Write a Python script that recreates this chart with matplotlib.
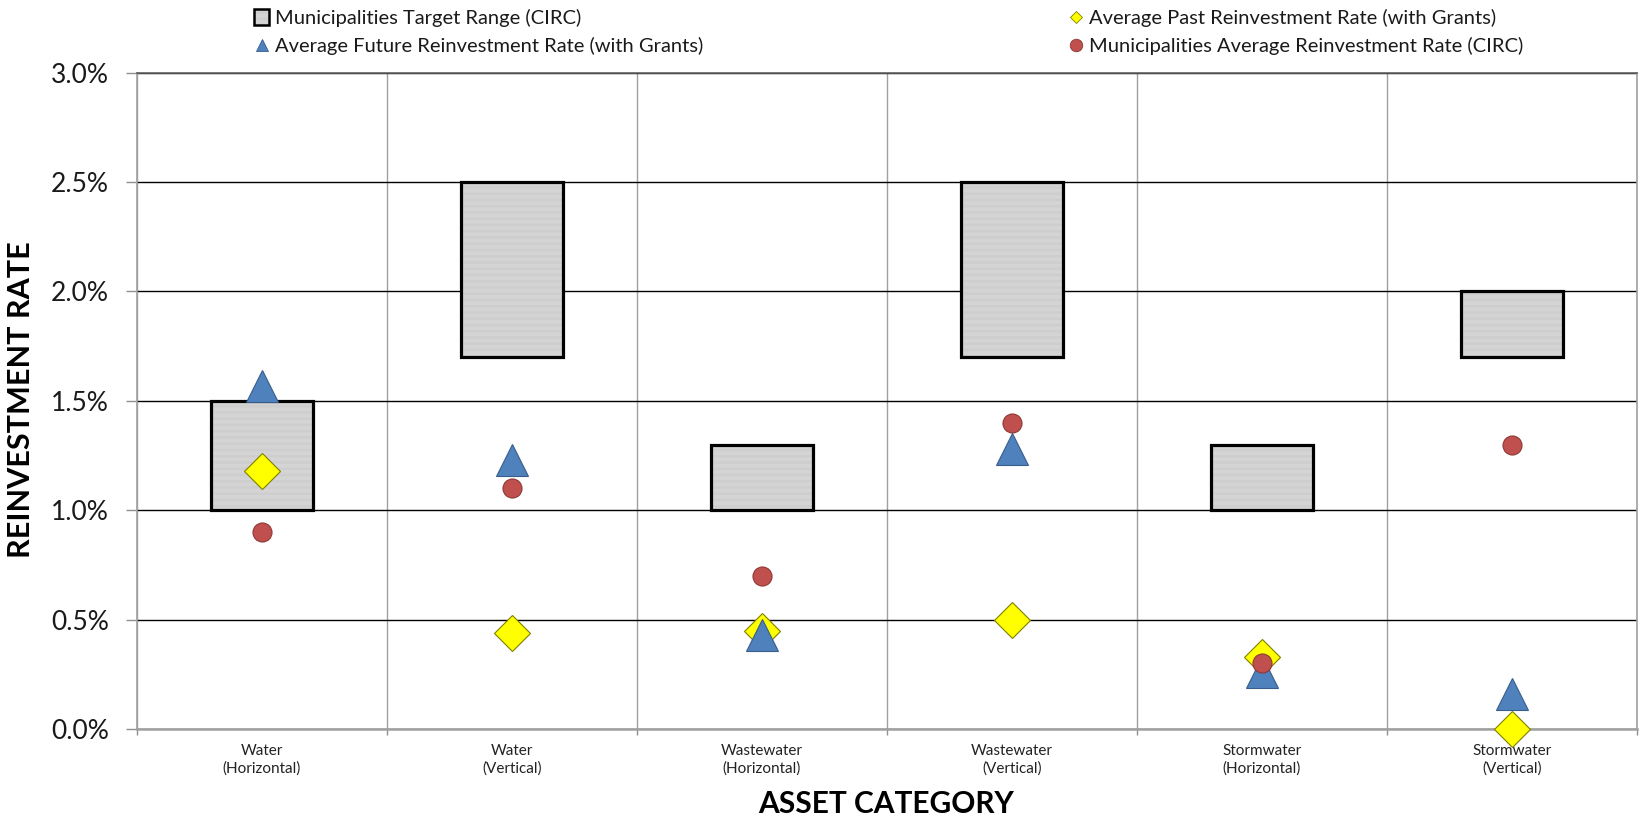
import matplotlib
matplotlib.use("Agg")
import matplotlib.pyplot as plt
from matplotlib.patches import Patch
from matplotlib.lines import Line2D
from matplotlib.ticker import FuncFormatter, MultipleLocator, FixedLocator
import numpy as np

# ---- data ----
categories = ["Water\n(Horizontal)", "Water\n(Vertical)", "Wastewater\n(Horizontal)",
              "Wastewater\n(Vertical)", "Stormwater\n(Horizontal)", "Stormwater\n(Vertical)"]
target_low = [1.0, 1.7, 1.0, 1.7, 1.0, 1.7]
target_high = [1.5, 2.5, 1.3, 2.5, 1.3, 2.0]
past_rate = [1.18, 0.44, 0.45, 0.50, 0.33, 0.00]
future_rate = [1.57, 1.23, 0.43, 1.28, 0.26, 0.16]
circ_rate = [0.90, 1.10, 0.70, 1.40, 0.30, 1.30]

legend_labels = ["Municipalities Target Range (CIRC)",
                 "Average Future Reinvestment Rate (with Grants)",
                 "Average Past Reinvestment Rate (with Grants)",
                 "Municipalities Average Reinvestment Rate (CIRC)"]

FONT = ["Lato", "DejaVu Sans"]
plt.rcParams['font.family'] = FONT
plt.rcParams['hatch.linewidth'] = 0.5

BLUE, BLUE_E = "#4F81BD", "#385D8A"
RED, RED_E = "#C0504D", "#8C3836"
YEL, YEL_E = "#FFFF00", "#7F7F00"
BOXFILL, HATCHC = "#E6E6E6", "#C4C4C4"

fig = plt.figure(figsize=(16.42, 8.19), dpi=100)
ax = fig.add_axes([137/1642, 1-729/819, 1500/1642, (729-72.7)/819])

x = np.arange(len(categories))
heights = [h - l for h, l in zip(target_high, target_low)]
bw = 0.41
ax.bar(x, heights, bottom=target_low, width=bw, color=BOXFILL, edgecolor=HATCHC,
       hatch='-'*14, linewidth=0, zorder=2)
ax.bar(x, heights, bottom=target_low, width=bw, facecolor='none', edgecolor='black',
       linewidth=2.3, zorder=3)

ax.plot(x, past_rate, linestyle='none', marker='D', markersize=18.3, markerfacecolor=YEL,
        markeredgecolor=YEL_E, markeredgewidth=0.8, zorder=4, clip_on=False)
ax.plot(x, future_rate, linestyle='none', marker='^', markersize=23, markerfacecolor=BLUE,
        markeredgecolor=BLUE_E, markeredgewidth=0.8, zorder=5, clip_on=False)
ax.plot(x, circ_rate, linestyle='none', marker='o', markersize=13.7, markerfacecolor=RED,
        markeredgecolor=RED_E, markeredgewidth=0.8, zorder=6, clip_on=False)

ax.set_xlim(-0.5, len(categories) - 0.5)
ax.set_ylim(0, 3.0)
ax.yaxis.set_major_locator(MultipleLocator(0.5))
ax.yaxis.set_major_formatter(FuncFormatter(lambda v, p: f"{v:.1f}%"))
ax.set_xticks(x)
ax.set_xticklabels(categories, fontsize=11, color="#222222", linespacing=1.3)
ax.xaxis.set_minor_locator(FixedLocator(np.arange(-0.5, len(categories), 1.0)))

ax.tick_params(axis='y', which='major', length=8, width=1, color="#909090",
               labelsize=19, pad=12, labelcolor="#1a1a1a", direction='out')
ax.tick_params(axis='x', which='major', length=0, pad=11)
ax.tick_params(axis='x', which='minor', length=4, width=1, color="#909090", direction='out')

ax.grid(axis='y', which='major', color='black', linewidth=1.0, zorder=1)
ax.grid(axis='x', which='minor', color='#A0A0A0', linewidth=1.0, zorder=1)
ax.set_axisbelow(True)
for s in ['left', 'right']:
    ax.spines[s].set_color('#A0A0A0')
    ax.spines[s].set_linewidth(1.2)
ax.spines['bottom'].set_color('#A0A0A0')
ax.spines['bottom'].set_linewidth(1.8)
ax.spines['top'].set_color('#606060')
ax.spines['top'].set_linewidth(1.2)

fig.text(21/1642, 1 - 400/819, "REINVESTMENT RATE", rotation=90, ha='center', va='center',
         fontsize=22, fontweight='bold', color='black')
fig.text(886/1642, 1 - 804/819, "ASSET CATEGORY", ha='center', va='center',
         fontsize=21.5, fontweight='bold', color='black')

# ---- legends ----
h_box_fill = Patch(facecolor=BOXFILL, edgecolor=HATCHC, hatch='-'*14, linewidth=0)
h_box_edge = Patch(facecolor='none', edgecolor='black', linewidth=1.8)
h_tri = Line2D([], [], linestyle='none', marker='^', markersize=9, markerfacecolor=BLUE,
               markeredgecolor=BLUE_E, markeredgewidth=0.6)
h_dia = Line2D([], [], linestyle='none', marker='D', markersize=6.5, markerfacecolor=YEL,
               markeredgecolor=YEL_E, markeredgewidth=0.6)
h_cir = Line2D([], [], linestyle='none', marker='o', markersize=9, markerfacecolor=RED,
               markeredgecolor=RED_E, markeredgewidth=0.6)

common = dict(frameon=False, fontsize=14.5, handlelength=0.75, handleheight=0.8,
              handletextpad=0.3, labelspacing=0.5, borderpad=0, borderaxespad=0,
              loc='center left', labelcolor='#1a1a1a')
fig.legend([(h_box_fill, h_box_edge), h_tri], legend_labels[:2],
           bbox_to_anchor=(254/1642, 1 - 32/819), **common)
fig.legend([h_dia, h_cir], legend_labels[2:], bbox_to_anchor=(1068/1642, 1 - 32/819), **common)

fig.savefig("out.png", dpi=100)
